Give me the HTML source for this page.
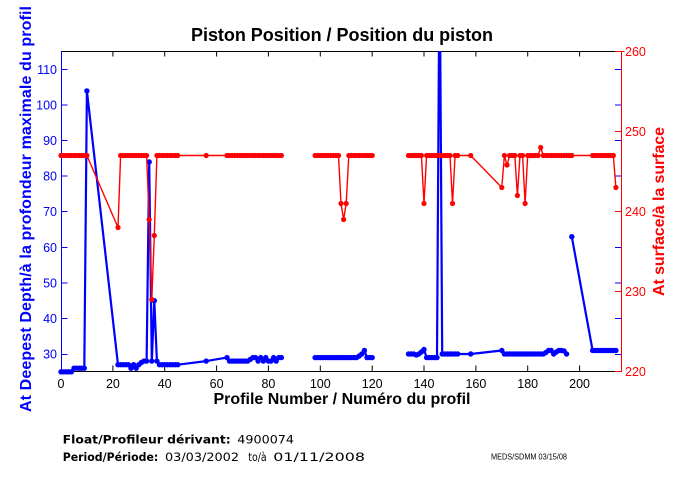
<!DOCTYPE html>
<html><head><meta charset="utf-8"><style>
html,body{margin:0;padding:0;background:#fff;}
svg{display:block;}
text{font-family:"Liberation Sans",Arial,sans-serif;}
text.dj{font-family:"DejaVu Sans","Liberation Sans",sans-serif;}
</style></head><body>
<svg width="680" height="500" viewBox="0 0 680 500" xmlns="http://www.w3.org/2000/svg">
<defs>
<marker id="mb" markerUnits="userSpaceOnUse" markerWidth="7" markerHeight="7" refX="3.5" refY="3.5" viewBox="0 0 7 7" overflow="visible"><circle cx="3.5" cy="3.5" r="2.7" fill="#0000ff"/></marker>
<marker id="mr" markerUnits="userSpaceOnUse" markerWidth="7" markerHeight="7" refX="3.5" refY="3.5" viewBox="0 0 7 7" overflow="visible"><circle cx="3.5" cy="3.5" r="2.6" fill="#ff0000"/></marker>
<clipPath id="cp"><rect x="0" y="51" width="680" height="449"/></clipPath>
</defs>
<rect width="680" height="500" fill="#fff"/>

<!-- title -->
<text x="342" y="41" font-size="18" font-weight="bold" text-anchor="middle" textLength="302" lengthAdjust="spacing" fill="#000">Piston Position / Position du piston</text>

<!-- axes -->
<line x1="61" y1="51.5" x2="621.5" y2="51.5" stroke="#000" stroke-width="1"/>
<line x1="61" y1="371.5" x2="621.5" y2="371.5" stroke="#000" stroke-width="1"/>
<line x1="61.5" y1="51" x2="61.5" y2="372" stroke="#0000ff" stroke-width="1"/>
<line x1="621.5" y1="51" x2="621.5" y2="372" stroke="#ff0000" stroke-width="1"/>

<!-- x ticks -->
<g stroke="#000" stroke-width="1">
<line x1="112.9" y1="371" x2="112.9" y2="365.5"/><line x1="112.9" y1="51" x2="112.9" y2="56.5"/>
<line x1="164.7" y1="371" x2="164.7" y2="365.5"/><line x1="164.7" y1="51" x2="164.7" y2="56.5"/>
<line x1="216.6" y1="371" x2="216.6" y2="365.5"/><line x1="216.6" y1="51" x2="216.6" y2="56.5"/>
<line x1="268.4" y1="371" x2="268.4" y2="365.5"/><line x1="268.4" y1="51" x2="268.4" y2="56.5"/>
<line x1="320.3" y1="371" x2="320.3" y2="365.5"/><line x1="320.3" y1="51" x2="320.3" y2="56.5"/>
<line x1="372.2" y1="371" x2="372.2" y2="365.5"/><line x1="372.2" y1="51" x2="372.2" y2="56.5"/>
<line x1="424" y1="371" x2="424" y2="365.5"/><line x1="424" y1="51" x2="424" y2="56.5"/>
<line x1="475.9" y1="371" x2="475.9" y2="365.5"/><line x1="475.9" y1="51" x2="475.9" y2="56.5"/>
<line x1="527.7" y1="371" x2="527.7" y2="365.5"/><line x1="527.7" y1="51" x2="527.7" y2="56.5"/>
<line x1="579.6" y1="371" x2="579.6" y2="365.5"/><line x1="579.6" y1="51" x2="579.6" y2="56.5"/>
</g>
<g font-size="12.5" fill="#000" text-anchor="middle">
<text x="61" y="388">0</text><text x="112.9" y="388">20</text><text x="164.7" y="388">40</text><text x="216.6" y="388">60</text><text x="268.4" y="388">80</text><text x="320.3" y="388">100</text><text x="372.2" y="388">120</text><text x="424" y="388">140</text><text x="475.9" y="388">160</text><text x="527.7" y="388">180</text><text x="579.6" y="388">200</text>
</g>

<!-- left (blue) ticks -->
<g stroke="#0000ff" stroke-width="1">
<line x1="61" y1="354.5" x2="67.5" y2="354.5"/><line x1="615" y1="354.5" x2="621" y2="354.5"/>
<line x1="61" y1="318.5" x2="67.5" y2="318.5"/><line x1="615" y1="318.5" x2="621" y2="318.5"/>
<line x1="61" y1="283" x2="67.5" y2="283"/><line x1="615" y1="283" x2="621" y2="283"/>
<line x1="61" y1="247.5" x2="67.5" y2="247.5"/><line x1="615" y1="247.5" x2="621" y2="247.5"/>
<line x1="61" y1="211.5" x2="67.5" y2="211.5"/><line x1="615" y1="211.5" x2="621" y2="211.5"/>
<line x1="61" y1="176" x2="67.5" y2="176"/><line x1="615" y1="176" x2="621" y2="176"/>
<line x1="61" y1="140.5" x2="67.5" y2="140.5"/><line x1="615" y1="140.5" x2="621" y2="140.5"/>
<line x1="61" y1="105" x2="67.5" y2="105"/><line x1="615" y1="105" x2="621" y2="105"/>
<line x1="61" y1="69.5" x2="67.5" y2="69.5"/><line x1="615" y1="69.5" x2="621" y2="69.5"/>
</g>
<g font-size="12.5" fill="#0000ff" text-anchor="end">
<text x="57" y="358.5">30</text><text x="57" y="323">40</text><text x="57" y="287.5">50</text><text x="57" y="252">60</text><text x="57" y="216">70</text><text x="57" y="180.5">80</text><text x="57" y="145">90</text><text x="57" y="109.5">100</text><text x="57" y="74">110</text>
</g>

<!-- right (red) ticks -->
<g stroke="#ff0000" stroke-width="1">
<line x1="615" y1="51.5" x2="624.5" y2="51.5"/>
<line x1="615" y1="131.5" x2="621" y2="131.5"/>
<line x1="615" y1="211.5" x2="621" y2="211.5"/>
<line x1="615" y1="291.5" x2="621" y2="291.5"/>
<line x1="615" y1="371.5" x2="621" y2="371.5"/>
</g>
<g font-size="12.5" fill="#ff0000" text-anchor="start">
<text x="625" y="56">260</text><text x="625" y="136">250</text><text x="625" y="216">240</text><text x="625" y="296">230</text><text x="625" y="376">220</text>
</g>

<!-- axis labels -->
<text x="342" y="404" font-size="16" font-weight="bold" text-anchor="middle" textLength="257" lengthAdjust="spacing" fill="#000">Profile Number / Numéro du profil</text>
<text transform="translate(31,209) rotate(-90)" font-size="16" font-weight="bold" text-anchor="middle" textLength="406" lengthAdjust="spacing" fill="#0000ff">At Deepest Depth/à la profondeur maximale du profil</text>
<text transform="translate(664,211.5) rotate(-90)" font-size="16" font-weight="bold" text-anchor="middle" textLength="169" lengthAdjust="spacing" fill="#ff0000">At surface/à la surface</text>

<!-- data -->
<g clip-path="url(#cp)" fill="none" stroke-linejoin="round">
<g stroke="#0000ff" stroke-width="2.2" marker-start="url(#mb)" marker-mid="url(#mb)" marker-end="url(#mb)">
<polyline points="61,371.8 63.6,371.8 66.2,371.8 68.8,371.8 71.4,371.8 74,368.2 76.6,368.2 79.2,368.2 81.7,368.2 84.3,368.2 86.9,90.9 118,364.7 120.6,364.7 123.2,364.7 125.8,364.7 128.4,364.7 131,368.2 133.6,364.7 136.2,368.2 138.8,364.7 141.4,362.5 144,361.1 146.6,361.1 149.2,162 151.8,361.1 154.3,300.7 156.9,361.1 159.5,364.7 162.1,364.7 164.7,364.7 167.3,364.7 169.9,364.7 172.5,364.7 175.1,364.7 177.7,364.7 206.2,361.1 227,357.6 229.5,361.1 232.1,361.1 234.7,361.1 237.3,361.1 239.9,361.1 242.5,361.1 245.1,361.1 247.7,361.1 250.3,359.4 252.9,357.6 255.5,357.6 258.1,361.1 260.7,357.6 263.3,361.1 265.8,357.6 268.4,361.1 271,361.1 273.6,357.6 276.2,361.1 278.8,357.6 281.4,357.6"/>
<polyline points="315.1,357.6 317.7,357.6 320.3,357.6 322.9,357.6 325.5,357.6 328.1,357.6 330.7,357.6 333.3,357.6 335.9,357.6 338.5,357.6 341,357.6 343.6,357.6 346.2,357.6 348.8,357.6 351.4,357.6 354,357.6 356.6,357.6 359.2,356 361.8,354 364.4,350.5 367,357.6 369.6,357.6 372.2,357.6"/>
<polyline points="408.5,354 411.1,354 413.7,354 416.3,355 418.8,354 421.4,352 424,349.5 426.6,357.6 429.2,357.6 431.8,357.6 434.4,357.6 437,357.6 439.6,-54.9 442.2,354 444.8,354 447.4,354 450,354 452.5,354 455.1,354 457.7,354 470.7,354 501.8,350.5 504.4,354 507,354 509.6,354 512.2,354 514.8,354 517.4,354 520,354 522.6,354 525.1,354 527.7,354 530.3,354 532.9,354 535.5,354 538.1,354 540.7,354 543.3,354 545.9,352.5 548.5,350.5 551.1,350.5 553.7,354 556.3,352 558.9,350.5 561.4,350.5 564,351 566.6,354"/>
<polyline points="571.8,236.7 592.6,350.5 595.2,350.5 597.8,350.5 600.4,350.5 603,350.5 605.5,350.5 608.1,350.5 610.7,350.5 613.3,350.5 615.9,350.5"/>
</g>
<g stroke="#ff0000" stroke-width="1.4" marker-start="url(#mr)" marker-mid="url(#mr)" marker-end="url(#mr)">
<polyline points="61,155.5 63.6,155.5 66.2,155.5 68.8,155.5 71.4,155.5 74,155.5 76.6,155.5 79.2,155.5 81.7,155.5 84.3,155.5 86.9,155.5 118,227.5 120.6,155.5 123.2,155.5 125.8,155.5 128.4,155.5 131,155.5 133.6,155.5 136.2,155.5 138.8,155.5 141.4,155.5 144,155.5 146.6,155.5 149.2,219.5 151.8,299.5 154.3,235.5 156.9,155.5 159.5,155.5 162.1,155.5 164.7,155.5 167.3,155.5 169.9,155.5 172.5,155.5 175.1,155.5 177.7,155.5 206.2,155.5 227,155.5 229.5,155.5 232.1,155.5 234.7,155.5 237.3,155.5 239.9,155.5 242.5,155.5 245.1,155.5 247.7,155.5 250.3,155.5 252.9,155.5 255.5,155.5 258.1,155.5 260.7,155.5 263.3,155.5 265.8,155.5 268.4,155.5 271,155.5 273.6,155.5 276.2,155.5 278.8,155.5 281.4,155.5"/>
<polyline points="315.1,155.5 317.7,155.5 320.3,155.5 322.9,155.5 325.5,155.5 328.1,155.5 330.7,155.5 333.3,155.5 335.9,155.5 338.5,155.5 341,203.5 343.6,219.5 346.2,203.5 348.8,155.5 351.4,155.5 354,155.5 356.6,155.5 359.2,155.5 361.8,155.5 364.4,155.5 367,155.5 369.6,155.5 372.2,155.5"/>
<polyline points="408.5,155.5 411.1,155.5 413.7,155.5 416.3,155.5 418.8,155.5 421.4,155.5 424,203.5 426.6,155.5 429.2,155.5 431.8,155.5 434.4,155.5 437,155.5 439.6,155.5 442.2,155.5 444.8,155.5 447.4,155.5 450,155.5 452.5,203.5 455.1,155.5 457.7,155.5 470.7,155.5 501.8,187.5 504.4,155.5 507,165 509.6,155.5 512.2,155.5 514.8,155.5 517.4,195.5 520,155.5 522.6,155.5 525.1,203.5 527.7,155.5 530.3,155.5 532.9,155.5 535.5,155.5 538.1,155.5 540.7,147.5 543.3,155.5 545.9,155.5 548.5,155.5 551.1,155.5 553.7,155.5 556.3,155.5 558.9,155.5 561.4,155.5 564,155.5 566.6,155.5 569.2,155.5 571.8,155.5 592.6,155.5 595.2,155.5 597.8,155.5 600.4,155.5 603,155.5 605.5,155.5 608.1,155.5 610.7,155.5 613.3,155.5 615.9,187.5"/>
</g>
</g>

<!-- footer text -->
<g font-size="11.8" fill="#000">
<text class="dj" x="62.7" y="443.5" font-weight="bold" textLength="168" lengthAdjust="spacingAndGlyphs">Float/Profileur dérivant:</text>
<text class="dj" x="237.3" y="443.5" textLength="56.7" lengthAdjust="spacingAndGlyphs">4900074</text>
<text class="dj" x="62.7" y="461" font-weight="bold" textLength="95.6" lengthAdjust="spacingAndGlyphs">Period/Période:</text>
<text class="dj" x="165" y="461" textLength="74" lengthAdjust="spacingAndGlyphs">03/03/2002</text>
<text class="dj" x="248.3" y="461" textLength="18.4" lengthAdjust="spacingAndGlyphs">to/à</text>
<text class="dj" x="273.3" y="461" textLength="91.7" lengthAdjust="spacingAndGlyphs">01/11/2008</text>
</g>
<text x="491" y="459.3" font-size="8" fill="#000" textLength="76" lengthAdjust="spacingAndGlyphs">MEDS/SDMM  03/15/08</text>
</svg>
</body></html>
